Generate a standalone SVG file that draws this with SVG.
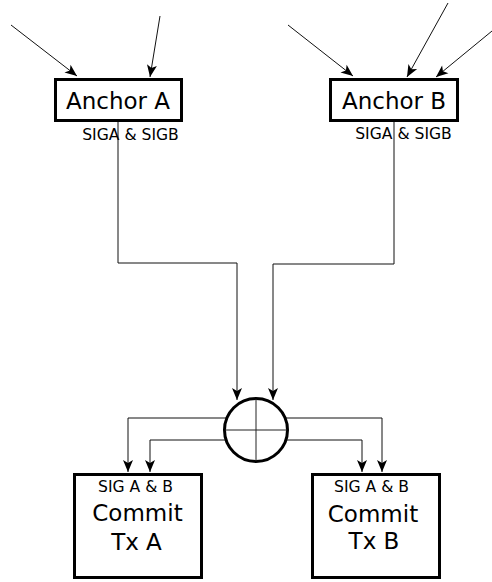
<svg xmlns="http://www.w3.org/2000/svg" width="492" height="582" viewBox="0 0 492 582">
<style>
.box{fill:#fff;stroke:#000;stroke-width:3}
.big{font-family:"DejaVu Sans",sans-serif;font-size:23px;fill:#000;text-anchor:middle}
.small{font-family:"DejaVu Sans",sans-serif;font-size:15.6px;fill:#000;text-anchor:middle}
.con{fill:none;stroke:#111;stroke-width:1}
</style>
<defs>
<marker id="arr" markerUnits="userSpaceOnUse" markerWidth="14" markerHeight="10" refX="12" refY="5" orient="auto" overflow="visible">
<path d="M0,0 L12,5 L0,10 L3,5 Z" fill="#000"/>
</marker>
</defs>
<rect width="492" height="582" fill="#fff"/>
<g id="connectors">
<path class="con" d="M11,25 L77,76" marker-end="url(#arr)"/>
<path class="con" d="M160,16 L150,77" marker-end="url(#arr)"/>
<path class="con" d="M288,25 L353,76" marker-end="url(#arr)"/>
<path class="con" d="M448,3 L407,77" marker-end="url(#arr)"/>
<path class="con" d="M492,31 L436,77" marker-end="url(#arr)"/>
<path class="con" d="M118,122 V263 H237 V400" marker-end="url(#arr)"/>
<path class="con" d="M394,122 V264 H273 V400" marker-end="url(#arr)"/>
<path class="con" d="M226,418 H128 V472" marker-end="url(#arr)"/>
<path class="con" d="M226,440 H150 V472" marker-end="url(#arr)"/>
<path class="con" d="M286,418 H382 V472" marker-end="url(#arr)"/>
<path class="con" d="M286,440 H362 V472" marker-end="url(#arr)"/>
</g>
<g id="anchorA">
<rect class="box" x="55.5" y="79.5" width="126" height="41"/>
<text class="big" x="118" y="109">Anchor A</text>
<text class="small" x="130.5" y="140">SIGA &amp; SIGB</text>
</g>
<g id="anchorB">
<rect class="box" x="330.5" y="79.5" width="127" height="41"/>
<text class="big" x="394" y="109">Anchor B</text>
<text class="small" x="403.5" y="139">SIGA &amp; SIGB</text>
</g>
<g id="combiner">
<circle cx="256" cy="430" r="31.5" fill="#fff" stroke="#000" stroke-width="3"/>
<line x1="256" y1="399" x2="256" y2="461" stroke="#222" stroke-width="1"/>
<line x1="225" y1="430" x2="287" y2="430" stroke="#222" stroke-width="1"/>
</g>
<g id="commitA">
<rect class="box" x="74.5" y="474.5" width="127" height="103"/>
<text class="small" x="135.5" y="492">SIG A &amp; B</text>
<text class="big" x="137.5" y="521">Commit</text>
<text class="big" x="136.5" y="550">Tx A</text>
</g>
<g id="commitB">
<rect class="box" x="312.5" y="474.5" width="127" height="103"/>
<text class="small" x="371.5" y="492">SIG A &amp; B</text>
<text class="big" x="373" y="522">Commit</text>
<text class="big" x="374" y="549">Tx B</text>
</g>
</svg>
